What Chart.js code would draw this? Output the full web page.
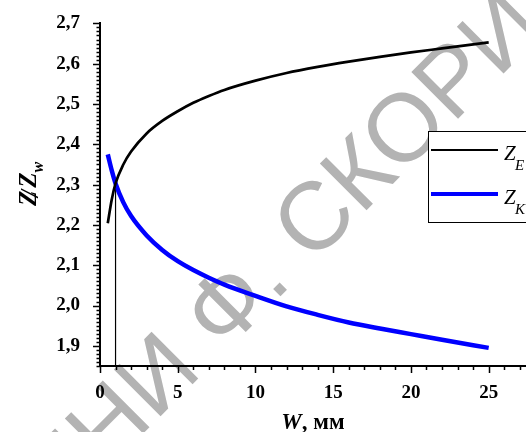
<!DOCTYPE html>
<html>
<head>
<meta charset="utf-8">
<script src="https://cdn.jsdelivr.net/npm/chart.js@4"></script>
<style>
  html, body { margin: 0; padding: 0; background: #fff; }
  #wrap { width: 526px; height: 432px; }
</style>
</head>
<body>
<div id="wrap"><canvas id="chart" width="526" height="432"></canvas></div>
<script>
// W, mm
const widths = [0.5, 0.75, 1, 1.5, 2, 3, 4, 5, 6, 7, 8, 10, 12, 14, 16, 18, 20, 22, 25];
// Z_E / Z_w (black curve)
const zE = [2.204, 2.262, 2.303, 2.35, 2.382, 2.427, 2.458, 2.482, 2.503, 2.52, 2.535, 2.558, 2.577, 2.592, 2.605, 2.617, 2.628, 2.638, 2.653];
// Z_K / Z_w (blue curve)
const zK = [2.375, 2.336, 2.303, 2.256, 2.222, 2.174, 2.138, 2.11, 2.088, 2.069, 2.052, 2.024, 1.998, 1.977, 1.958, 1.943, 1.929, 1.915, 1.895];
// vertical marker at the crossing point
const markX = [1, 1];
const markY = [2.303, 1.85];

const xTicks = [0, 5, 10, 15, 20, 25];
const yTicks = [1.9, 2.0, 2.1, 2.2, 2.3, 2.4, 2.5, 2.6, 2.7];

const toPoints = (xs, ys) => xs.map((x, i) => ({ x: x, y: ys[i] }));
const serif = "'Liberation Serif', 'Times New Roman', serif";

// draws the axis tick marks (major + minor), titles, legend and background stamp
const decorations = {
  id: "decorations",
  beforeDraw(chart) {
    const ctx = chart.ctx;
    ctx.save();
    ctx.fillStyle = "#b3b3b3";
    ctx.font = "96px 'Liberation Sans', Arial, sans-serif";
    ctx.translate(155, 373);
    ctx.rotate(-Math.PI / 4);
    const pre = ctx.measureText("ИМЕН").width + ctx.measureText("И").width / 2;
    ctx.fillText("ИМЕНИ Ф. СКОРИНЫ", -pre, 0.36 * 96);
    ctx.restore();
  },
  afterDraw(chart) {
    const ctx = chart.ctx;
    const xs = chart.scales.x;
    const ys = chart.scales.y;
    const area = chart.chartArea;
    ctx.save();
    ctx.strokeStyle = "#000";
    ctx.lineWidth = 1.5;
    ctx.beginPath();
    for (let v = 0; v <= 27; v++) {
      const px = Math.round(xs.getPixelForValue(v)) + 0.5;
      const len = v % 5 === 0 ? 7 : 4;
      ctx.moveTo(px, area.bottom);
      ctx.lineTo(px, area.bottom + len);
    }
    for (let i = 185; i <= 270; i++) {
      const py = Math.round(ys.getPixelForValue(i / 100)) + 0.5;
      const len = i % 10 === 0 ? 7 : 3.5;
      ctx.moveTo(area.left, py);
      ctx.lineTo(area.left - len, py);
    }
    ctx.stroke();

    // x title
    ctx.fillStyle = "#000";
    ctx.textBaseline = "alphabetic";
    ctx.font = "bold 23px " + serif;
    const rest = ", мм";
    const restW = ctx.measureText(rest).width;
    ctx.font = "italic bold 23px " + serif;
    const wW = ctx.measureText("W").width;
    const tx = (area.left + area.right) / 2 - (wW + restW) / 2;
    ctx.fillText("W", tx, 429);
    ctx.font = "bold 23px " + serif;
    ctx.fillText(rest, tx + wW, 429);

    // y title (rotated): Z/Z with subscript w, slash overlapping the first Z
    ctx.save();
    ctx.translate(36, 184);
    ctx.rotate(-Math.PI / 2);
    ctx.font = "italic bold 25px " + serif;
    const zw = ctx.measureText("Z").width;
    ctx.font = "italic bold 16px " + serif;
    const sw = ctx.measureText("w").width;
    const total = zw * 2 + 3 + sw;
    const x0 = -total / 2;
    ctx.font = "italic bold 25px " + serif;
    ctx.fillText("Z", x0, 0);
    ctx.fillText("/", x0 + zw * 0.6, 2);
    ctx.fillText("Z", x0 + zw + 3, 0);
    ctx.font = "italic bold 16px " + serif;
    ctx.fillText("w", x0 + zw * 2 + 3, 7);
    ctx.restore();

    // legend
    ctx.fillStyle = "#fff";
    ctx.fillRect(428.5, 131.5, 120, 91);
    ctx.strokeStyle = "#000";
    ctx.lineWidth = 1;
    ctx.strokeRect(428.5, 131.5, 120, 91);
    const entries = [
      { label: "E", color: "#000", width: 2.2, y: 150 },
      { label: "K", color: "#0000ff", width: 4, y: 194 },
    ];
    entries.forEach((e) => {
      ctx.strokeStyle = e.color;
      ctx.lineWidth = e.width;
      ctx.beginPath();
      ctx.moveTo(431, e.y);
      ctx.lineTo(498, e.y);
      ctx.stroke();
      ctx.fillStyle = "#000";
      ctx.font = "italic 21px " + serif;
      ctx.fillText("Z", 504, e.y + 10);
      ctx.font = "italic 15px " + serif;
      ctx.fillText(e.label, 515, e.y + 20);
    });
    ctx.restore();
  },
};

new Chart(document.getElementById("chart"), {
  type: "scatter",
  data: {
    datasets: [
      {
        label: "ZE",
        data: toPoints(widths, zE),
        showLine: true,
        borderColor: "#000",
        borderWidth: 2.7,
        pointRadius: 0,
        cubicInterpolationMode: "monotone",
      },
      {
        label: "ZK",
        data: toPoints(widths, zK),
        showLine: true,
        borderColor: "#0000ff",
        borderWidth: 4.5,
        pointRadius: 0,
        cubicInterpolationMode: "monotone",
      },
      {
        label: "mark",
        data: toPoints(markX, markY),
        showLine: true,
        borderColor: "#000",
        borderWidth: 1.2,
        pointRadius: 0,
      },
    ],
  },
  options: {
    responsive: false,
    animation: false,
    layout: { padding: { top: 22, right: 0, left: 0, bottom: 0 } },
    plugins: {
      legend: { display: false },
      tooltip: { enabled: false },
    },
    scales: {
      x: {
        type: "linear",
        min: 0,
        max: 27.4,
        afterBuildTicks: (scale) => {
          scale.ticks = xTicks.map((v) => ({ value: v }));
        },
        ticks: {
          color: "#000",
          padding: 8,
          maxRotation: 0,
          font: { family: serif, size: 19, weight: "bold" },
        },
        grid: { display: false },
        border: { display: true, color: "#000", width: 2 },
        afterFit: (scale) => {
          scale.height = 66;
        },
      },
      y: {
        min: 1.85,
        max: 2.7,
        afterBuildTicks: (scale) => {
          scale.ticks = yTicks.map((v) => ({ value: v }));
        },
        ticks: {
          color: "#000",
          padding: 12,
          font: { family: serif, size: 19, weight: "bold" },
          callback: (v) => v.toFixed(1).replace(".", ","),
        },
        grid: { display: false },
        border: { display: true, color: "#000", width: 2 },
        afterFit: (scale) => {
          scale.width = 100;
        },
      },
    },
  },
  plugins: [decorations],
});
</script>
</body>
</html>
